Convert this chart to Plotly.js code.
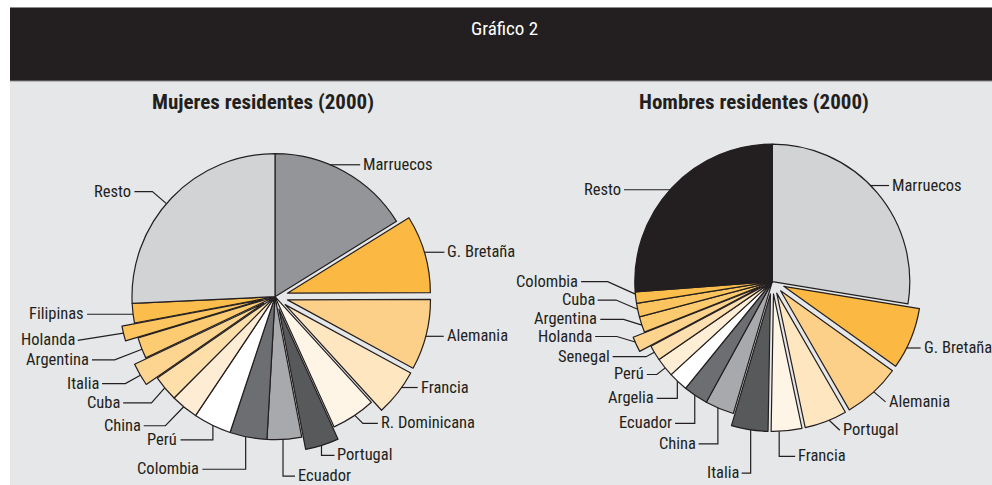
<!DOCTYPE html>
<html><head><meta charset="utf-8">
<script src="https://cdn.plot.ly/plotly-3.0.1.min.js"></script>
<style>html,body{margin:0;padding:0;background:#fff;} #chart{width:992px;height:485px;}</style>
</head><body><div id="chart"></div>
<script>
// ---------------- data ----------------
const chartTitle = 'Gráfico 2';
const mujeresTitle = 'Mujeres residentes (2000)';
const hombresTitle = 'Hombres residentes (2000)';

const mujeresLabels = ['Marruecos','G. Bretaña','Alemania','Francia','R. Dominicana','Portugal','Ecuador','Colombia','Perú','China','Cuba','Italia','Argentina','Holanda','Filipinas','Resto'];
const mujeresValues = [16.2, 8.8, 8.0, 5.3, 5.0, 3.8, 3.9, 4.2, 4.3, 3.1, 2.9, 2.6, 2.4, 1.7, 2.2, 25.8];

const hombresLabels = ['Marruecos','G. Bretaña','Alemania','Portugal','Francia','Italia','China','Ecuador','Argelia','Perú','Senegal','Holanda','Argentina','Cuba','Colombia','Resto'];
const hombresValues = [27.6, 7.3, 6.8, 5.0, 3.6, 4.3, 3.4, 2.9, 2.3, 2.25, 1.8, 1.8, 1.85, 1.6, 1.35, 26.2];

// ---------------- styles ----------------
const W = 992, H = 485;
const INK = '#231F20';
const FONT = '"Roboto Condensed", "Open Sans Condensed", sans-serif';
const LABEL_SIZE = 16.5;

const mujeresColors = ['#939598','#FBB843','#FDD08A','#FEE6C1','#FEF5E6','#58595B','#A7A9AC','#6D6E71','#FFFFFF','#FEEDD4','#FEDFAA','#FDD591','#FCCB72','#FCC560','#FBBD4B','#D1D3D4'];
const mujeresPull   = [0,0.09,0.09,0.09,0,0.09,0,0,0,0,0,0.09,0,0.09,0,0];
const hombresColors = ['#D1D3D4','#FBB843','#FDD08A','#FEE6C1','#FEF5E6','#58595B','#A7A9AC','#6D6E71','#FFFFFF','#FEEED6','#FEE0B0','#FDD38E','#FCCB70','#FCC45E','#FBBD4B','#231F20'];
const hombresPull   = [0,0.09,0.09,0.09,0.09,0.09,0,0,0,0,0,0.09,0,0,0,0];

// pie placement (pixels)
const geoM = {cx: 275, cy: 296.7, r: 143};
const geoH = {cx: 772.3, cy: 281.6, r: 137.5};

// leader layouts: f = position inside slice, path = relative moves from slice edge
const mujeresLeaders = [
  {f:0.39, path:[['h',30]]},
  {f:0.48, path:[['h',20]]},
  {f:0.52, path:[['h',18]]},
  {f:0.36, path:[['h',16]]},
  {f:0.47, path:[['l',8,8],['h',15]]},
  {f:0.52, path:[['v',10],['h',13]]},
  {f:0.54, path:[['v',36.6],['h',12]]},
  {f:0.57, path:[['v',32.6],['h',-43.3]]},
  {f:0.48, path:[['v',14.4],['h',-32.4]]},
  {f:0.53, path:[['l',-18.3,19],['h',-21.7]]},
  {f:0.53, path:[['l',-13.3,15],['h',-28.3]]},
  {f:0.47, path:[['l',-15,8.3],['h',-23.3]]},
  {f:0.44, path:[['l',-27.3,10.7],['h',-22.7]]},
  {f:0.53, path:[['l',-45.7,7.4]]},
  {f:0.45, path:[['h',-46]]},
  {f:0.467, path:[['l',-14,-12],['h',-18]]}
];
const hombresLeaders = [
  {f:0.46, path:[['h',18.3]]},
  {f:0.66, path:[['h',14]]},
  {f:0.48, path:[['l',11.7,10]]},
  {f:0.42, path:[['l',10.7,10]]},
  {f:0.74, path:[['v',25],['h',16]]},
  {f:0.47, path:[['v',43.3],['h',-9]]},
  {f:0.56, path:[['v',36],['h',-19.3]]},
  {f:0.54, path:[['v',28.3],['h',-19.7]]},
  {f:0.55, path:[['v',17.3],['h',-20.7]]},
  {f:0.46, path:[['l',-8.4,6.6],['h',-10]]},
  {f:0.55, path:[['l',-8.3,4.4],['h',-33.4]]},
  {f:0.67, path:[['l',-18.3,-5.5],['h',-21.7]]},
  {f:0.46, path:[['l',-18.3,-5.8],['h',-23.3]]},
  {f:0.57, path:[['l',-21.6,-9.2],['h',-18.4]]},
  {f:0.8,  path:[['l',-27.7,-12.5],['h',-26.6]]},
  {f:0.49, path:[['h',-46]]}
];

// ---------------- helpers ----------------
const px = x => x / W;
const py = y => 1 - y / H;

function pieTrace(labels, values, colors, pulls, geo) {
  const maxPull = Math.max(...pulls);
  const R = geo.r * (1 + maxPull);
  return {
    type: 'pie', labels: labels, values: values, sort: false, direction: 'clockwise', rotation: 0,
    pull: pulls, textinfo: 'none', hoverinfo: 'skip', showlegend: false,
    marker: {colors: colors, line: {color: INK, width: 1.2}},
    domain: {x: [px(geo.cx - R), px(geo.cx + R)], y: [py(geo.cy + R), py(geo.cy - R)]}
  };
}

function leaders(labels, values, pulls, geo, specs, shapes, annots) {
  const total = values.reduce((a, b) => a + b, 0);
  let cum = 0;
  values.forEach((v, i) => {
    const a0 = cum / total * 360, a1 = (cum + v) / total * 360; cum += v;
    const s = specs[i];
    const mid = (a0 + a1) / 2 * Math.PI / 180;
    const pp = pulls[i] * geo.r;
    const ocx = geo.cx + pp * Math.sin(mid), ocy = geo.cy - pp * Math.cos(mid);
    const th = (a0 + (a1 - a0) * s.f) * Math.PI / 180;
    let x = ocx + geo.r * Math.sin(th), y = ocy - geo.r * Math.cos(th);
    let d = 'M' + px(x) + ',' + py(y);
    let lastDx = 1;
    s.path.forEach(p => {
      if (p[0] === 'h') { x += p[1]; lastDx = p[1]; }
      else if (p[0] === 'v') { y += p[1]; }
      else { x += p[1]; y += p[2]; lastDx = p[1]; }
      d += ' L' + px(x) + ',' + py(y);
    });
    shapes.push({type: 'path', xref: 'paper', yref: 'paper', path: d, line: {color: INK, width: 1.2}, layer: 'above'});
    const right = lastDx > 0;
    annots.push({xref: 'paper', yref: 'paper', x: px(x + (right ? 2 : -2)), y: py(y - 0.5),
      xanchor: right ? 'left' : 'right', yanchor: 'middle', showarrow: false, borderpad: 0,
      text: labels[i], font: {family: FONT, size: LABEL_SIZE, color: INK}});
  });
}

// ---------------- build ----------------
const shapes = [
  {type: 'rect', xref: 'paper', yref: 'paper', x0: px(10), x1: 1, y0: py(H), y1: py(81), fillcolor: '#E6E7E8', line: {width: 0}, layer: 'below'},
  {type: 'rect', xref: 'paper', yref: 'paper', x0: px(10), x1: 1, y0: py(81), y1: py(8), fillcolor: '#231F20', line: {width: 0}, layer: 'below'},
  {type: 'line', xref: 'paper', yref: 'paper', x0: px(10), x1: 1, y0: py(7.5), y1: py(7.5), line: {color: '#8a8a8c', width: 1}, layer: 'below'},
  {type: 'line', xref: 'paper', yref: 'paper', x0: px(10), x1: 1, y0: py(81), y1: py(81), line: {color: '#8a8a8c', width: 1}, layer: 'below'}
];
const annots = [
  {xref: 'paper', yref: 'paper', x: px(505), y: py(28), xanchor: 'center', yanchor: 'middle', showarrow: false,
   text: chartTitle, font: {family: FONT, size: 19, color: '#FFFFFF'}},
  {xref: 'paper', yref: 'paper', x: px(263), y: py(102), xanchor: 'center', yanchor: 'middle', showarrow: false,
   text: '<b>' + mujeresTitle + '</b>', font: {family: FONT, size: 21, color: INK}},
  {xref: 'paper', yref: 'paper', x: px(754), y: py(102), xanchor: 'center', yanchor: 'middle', showarrow: false,
   text: '<b>' + hombresTitle + '</b>', font: {family: FONT, size: 21, color: INK}}
];
leaders(mujeresLabels, mujeresValues, mujeresPull, geoM, mujeresLeaders, shapes, annots);
leaders(hombresLabels, hombresValues, hombresPull, geoH, hombresLeaders, shapes, annots);

const data = [
  pieTrace(mujeresLabels, mujeresValues, mujeresColors, mujeresPull, geoM),
  pieTrace(hombresLabels, hombresValues, hombresColors, hombresPull, geoH)
];
const layout = {
  width: W, height: H, margin: {l: 0, r: 0, t: 0, b: 0},
  paper_bgcolor: '#FFFFFF', plot_bgcolor: 'rgba(0,0,0,0)',
  shapes: shapes, annotations: annots, showlegend: false
};
Plotly.newPlot('chart', data, layout, {staticPlot: true, displayModeBar: false});
</script>
</body></html>
